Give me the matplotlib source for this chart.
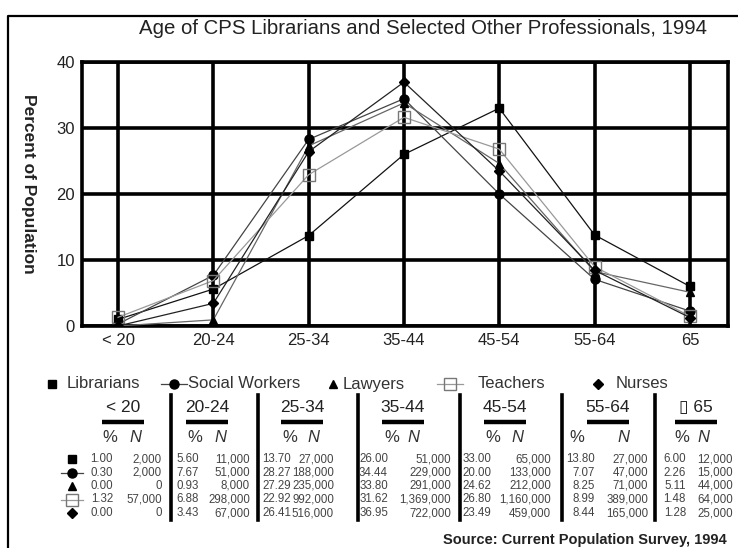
import matplotlib.pyplot as plt
from matplotlib.lines import Line2D

plt.rcParams['font.family'] = ['Liberation Sans', 'DejaVu Sans']

# data
ages = ["< 20", "20-24", "25-34", "35-44", "45-54", "55-64", "65"]
table_heads = ["< 20", "20-24", "25-34", "35-44", "45-54", "55-64", "\u25af 65"]
names = ["Librarians", "Social Workers", "Lawyers", "Teachers", "Nurses"]

lib_pct = [1.00, 5.60, 13.70, 26.00, 33.00, 13.80, 6.00]
lib_n = [2000, 11000, 27000, 51000, 65000, 27000, 12000]
sw_pct = [0.30, 7.67, 28.27, 34.44, 20.00, 7.07, 2.26]
sw_n = [2000, 51000, 188000, 229000, 133000, 47000, 15000]
law_pct = [0.00, 0.93, 27.29, 33.80, 24.62, 8.25, 5.11]
law_n = [0, 8000, 235000, 291000, 212000, 71000, 44000]
tea_pct = [1.32, 6.88, 22.92, 31.62, 26.80, 8.99, 1.48]
tea_n = [57000, 298000, 992000, 1369000, 1160000, 389000, 64000]
nur_pct = [0.00, 3.43, 26.41, 36.95, 23.49, 8.44, 1.28]
nur_n = [0, 67000, 516000, 722000, 459000, 165000, 25000]

pcts = [lib_pct, sw_pct, law_pct, tea_pct, nur_pct]
ns = [lib_n, sw_n, law_n, tea_n, nur_n]

# marker styles: marker, size, face, edge, line colour
styles = [
    ("s", 5.5, "black", "black", "#111111"),
    ("o", 6.5, "black", "black", "#444444"),
    ("^", 5.5, "black", "black", "#666666"),
    ("s", 8.5, "none", "#777777", "#999999"),
    ("D", 5.5, "black", "black", "#222222"),
]

W, H = 738, 548
fig = plt.figure(figsize=(W / 100, H / 100), dpi=100)

def fx(x):
    return x / W

def fy(y):
    return 1 - y / H

# plot area
ax = fig.add_axes([fx(82), fy(326), fx(728) - fx(82), fy(62) - fy(326)])
xs = list(range(len(ages)))
for vals, st in zip(pcts, styles):
    m, ms, fc, ec, lc = st
    ax.plot(xs, vals, color=lc, lw=0.9, marker=m, markersize=ms,
            markerfacecolor=fc, markeredgecolor=ec, markeredgewidth=1.0, zorder=3)

ax.set_xlim(-0.378, 6.40)
ax.set_ylim(0, 40)
ax.set_xticks(xs)
ax.set_xticklabels(ages, fontsize=12.5)
ax.set_yticks([0, 10, 20, 30, 40])
ax.grid(True, color="black", lw=2.6)
ax.set_axisbelow(True)
for s in ax.spines.values():
    s.set_linewidth(2.6)
ax.tick_params(length=0, labelsize=12, colors="#222222", pad=5)
ax.set_ylabel("Percent of Population", rotation=270, fontsize=12.5,
              fontweight="bold", color="#222222", va="center")
ax.yaxis.set_label_coords(-(82 - 28) / (728 - 82), 0.54)

# title
fig.text(fx(423), fy(28), "Age of CPS Librarians and Selected Other Professionals, 1994",
         ha="center", va="center", fontsize=14.7, color="#222222")

# legend row
leg_marker_x = [52, 174, 333, 450, 598]
leg_text_x = [67, 188, 343, 478, 616]
leg_line = [False, True, False, True, False]
ly = 384
for i, st in enumerate(styles):
    m, ms, fc, ec, lc = st
    if leg_line[i]:
        fig.add_artist(Line2D([fx(leg_marker_x[i] - 13), fx(leg_marker_x[i] + 13)],
                              [fy(ly), fy(ly)], color=lc, lw=0.9))
    fig.add_artist(Line2D([fx(leg_marker_x[i])], [fy(ly)], marker=m, markersize=ms,
                          markerfacecolor=fc, markeredgecolor=ec, lw=0))
    fig.text(fx(leg_text_x[i]), fy(ly), names[i], ha="left", va="center",
             fontsize=12, color="#333333")

# table
pct_right = [113, 199, 291, 388, 491, 595, 686]
n_right = [162, 250, 334, 451, 551, 648, 733]
head_x = [123, 207, 302, 403, 505, 608, 696]
pct_x = [110, 195, 290, 392, 493, 577, 682]
nhead_x = [135, 220, 313, 413, 517, 623, 703]
seps = [171, 258, 358, 460, 562, 655]
rows_y = [459, 472.5, 486, 499.5, 513]

for c in range(len(ages)):
    fig.text(fx(head_x[c]), fy(408), table_heads[c], ha="center", va="center",
             fontsize=12.5, color="#222222")
    fig.add_artist(Line2D([fx(head_x[c] - 21), fx(head_x[c] + 21)], [fy(422), fy(422)],
                          color="black", lw=3.2, solid_capstyle="butt"))
    fig.text(fx(pct_x[c]), fy(438), "%", ha="center", va="center",
             fontsize=12, color="#333333")
    fig.text(fx(nhead_x[c]), fy(438), "N", ha="center", va="center",
             fontsize=12, style="italic", color="#333333")
    for r in range(len(names)):
        fig.text(fx(pct_right[c]), fy(rows_y[r]), f"{pcts[r][c]:.2f}", ha="right",
                 va="center", fontsize=8.3, color="#444444")
        fig.text(fx(n_right[c]), fy(rows_y[r]), f"{ns[r][c]:,}", ha="right",
                 va="center", fontsize=8.3, color="#444444")

for sx in seps:
    fig.add_artist(Line2D([fx(sx), fx(sx)], [fy(395), fy(520)], color="black", lw=2.6))

# row keys
for r, st in enumerate(styles):
    m, ms, fc, ec, lc = st
    if leg_line[r]:
        fig.add_artist(Line2D([fx(61), fx(83)], [fy(rows_y[r]), fy(rows_y[r])],
                              color=lc, lw=0.9))
    fig.add_artist(Line2D([fx(72)], [fy(rows_y[r])], marker=m, markersize=ms,
                          markerfacecolor=fc, markeredgecolor=ec, lw=0))

fig.text(fx(727), fy(540), "Source: Current Population Survey, 1994", ha="right",
         va="center", fontsize=10.5, fontweight="bold", color="#222222")

# page border
fig.add_artist(Line2D([fx(7.5), fx(7.5), fx(738)], [fy(548), fy(15.5), fy(15.5)],
                      color="black", lw=1.6))

fig.savefig("out.png", dpi=100)
